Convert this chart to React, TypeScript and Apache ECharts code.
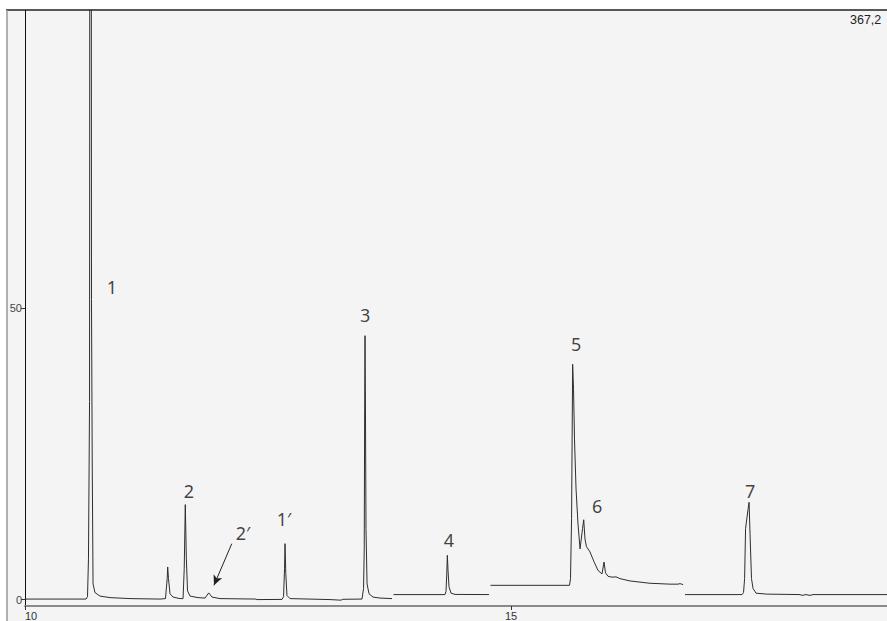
import React, { useEffect, useRef } from "react";
import * as echarts from "echarts";

// Chromatogram trace, four baseline segments: [retention time (min), signal]
const segmentA: [number, number][] = [
  [10.0, 0.09], [10.628, 0.09], [10.643, 0.5], [10.653, 7.0], [10.664, 34], [10.674, 367.2],
  [10.684, 51.5], [10.692, 22.4], [10.7, 2.7], [10.72, 1.2], [10.772, 0.6], [10.875, 0.34],
  [11.08, 0.17], [11.389, 0.09], [11.445, 0.17], [11.463, 3.6], [11.468, 5.6], [11.476, 3.6],
  [11.492, 1.0], [11.523, 0.43], [11.595, 0.17], [11.626, 0.17], [11.638, 5.3], [11.649, 16.3],
  [11.66, 7.0], [11.672, 1.5], [11.698, 0.6], [11.78, 0.34], [11.852, 0.26], [11.89, 1.15],
  [11.924, 0.43], [12.006, 0.17], [12.376, 0.09], [12.387, 0.0], [12.644, 0.03], [12.66, 0.5],
  [12.67, 5.3], [12.675, 9.6], [12.683, 4.45], [12.695, 0.7], [12.726, 0.17], [13.138, 0.0],
  [13.25, -0.1], [13.27, 0.05], [13.467, 0.09], [13.483, 1.9], [13.49, 8.7], [13.494, 31],
  [13.498, 45.3], [13.503, 31], [13.508, 12.2], [13.519, 2.7], [13.539, 1.0], [13.58, 0.43],
  [13.652, 0.26], [13.776, 0.17],
];
const segmentB: [number, number][] = [
  [13.791, 0.86], [14.321, 0.86], [14.331, 1.37], [14.339, 4.45], [14.345, 7.6], [14.352, 5.0],
  [14.362, 2.2], [14.383, 1.1], [14.424, 0.89], [14.774, 0.86],
];
const segmentC: [number, number][] = [
  [14.789, 2.45], [15.602, 2.45], [15.612, 3.6], [15.623, 13.9], [15.63, 31], [15.634, 40.4],
  [15.643, 36.1], [15.653, 27.6], [15.669, 19.0], [15.689, 13.0], [15.71, 8.7], [15.736, 12.2],
  [15.748, 13.7], [15.761, 10.4], [15.776, 9.1], [15.812, 8.2], [15.854, 6.5], [15.895, 5.0],
  [15.936, 4.4], [15.957, 6.45], [15.972, 4.6], [15.998, 4.0], [16.039, 3.85], [16.08, 3.9],
  [16.121, 3.6], [16.224, 3.2], [16.43, 2.8], [16.636, 2.65], [16.718, 2.65], [16.739, 2.74],
  [16.77, 2.57],
];
const segmentD: [number, number][] = [
  [16.79, 0.86], [17.377, 0.86], [17.392, 1.2], [17.403, 3.6], [17.413, 12.2], [17.438, 15.4],
  [17.449, 16.7], [17.459, 11.3], [17.474, 3.6], [17.49, 1.9], [17.521, 1.1], [17.631, 0.94],
  [17.973, 0.86], [17.994, 0.72], [18.035, 0.86], [18.076, 0.72], [18.107, 0.86], [18.87, 0.86],
];

// Peak annotations
const peakNames = ["1", "2", "2′", "1′", "3", "4", "5", "6", "7"];
const peakLabelX = [10.895, 11.687, 12.243, 12.665, 13.498, 14.362, 15.669, 15.885, 17.459];
const peakLabelY = [53.6, 18.7, 11.5, 13.9, 48.8, 10.3, 43.8, 16.1, 18.7];
const arrowFrom: [number, number] = [12.127, 9.59];
const arrowTo: [number, number] = [11.944, 2.45];

// Axes
const xTickValues = [10, 15];
const yTickValues = [0, 50];
const xMin = 10;
const xMax = 18.868;
const yMin = -1.1;
const yMax = 101.2;
const cornerLabel = "367,2";

export default function App() {
  const ref = useRef<HTMLDivElement>(null);

  useEffect(() => {
    if (!ref.current) return;
    const chart = echarts.init(ref.current, undefined, { renderer: "svg" });
    const lineStyle = { color: "#2e2e2e", width: 1 };
    const segs = [segmentA, segmentB, segmentC, segmentD];

    const series: any[] = segs.map((seg, i) => ({
      type: "line",
      data: seg,
      showSymbol: false,
      symbol: "none",
      lineStyle,
      clip: true,
      z: 3,
      silent: true,
      ...(i === 0
        ? {
            markLine: {
              silent: true,
              symbol: ["none", "arrow"],
              symbolSize: [7, 10],
              label: { show: false },
              lineStyle: { color: "#222", width: 1, type: "solid" },
              data: [[{ coord: arrowFrom }, { coord: arrowTo }]],
            },
          }
        : {}),
    }));

    series.push({
      type: "scatter",
      symbol: "circle",
      symbolSize: 1,
      itemStyle: { color: "rgba(0,0,0,0)" },
      silent: true,
      z: 5,
      data: peakNames.map((n, i) => ({ name: n, value: [peakLabelX[i], peakLabelY[i]] })),
      label: {
        show: true,
        position: "inside",
        formatter: "{b}",
        fontSize: 18,
        fontFamily: "Noto Sans",
        color: "#111",
      },
    });

    chart.setOption({
      animation: false,
      backgroundColor: "#f4f4f4",
      grid: { left: 25, right: 0, top: 10, bottom: 13.5 },
      xAxis: {
        type: "value",
        min: xMin,
        max: xMax,
        axisLine: { show: true, onZero: false, lineStyle: { color: "#8a8a8a", width: 2 } },
        axisTick: { show: true, length: 4, customValues: xTickValues, lineStyle: { color: "#333" } },
        axisLabel: {
          customValues: xTickValues,
          fontSize: 11,
          fontFamily: "Liberation Sans",
          color: "#333",
          margin: 4,
          alignMinLabel: "left",
        },
        splitLine: { show: false },
      },
      yAxis: {
        type: "value",
        min: yMin,
        max: yMax,
        axisLine: { show: true, lineStyle: { color: "#111", width: 1 } },
        axisTick: { show: true, length: 4, customValues: yTickValues, lineStyle: { color: "#333" } },
        axisLabel: {
          customValues: yTickValues,
          fontSize: 11,
          fontFamily: "Liberation Sans",
          color: "#444",
          margin: 3,
        },
        splitLine: { show: false },
      },
      graphic: [
        { type: "rect", z: 100, shape: { x: 0, y: 0, width: 887, height: 9.5 }, style: { fill: "#ffffff" } },
        { type: "rect", z: 100, shape: { x: 0, y: 0, width: 6, height: 621 }, style: { fill: "#ffffff" } },
        { type: "line", z: 101, shape: { x1: 6, y1: 10, x2: 887, y2: 10 }, style: { stroke: "#222", lineWidth: 1.5 } },
        { type: "line", z: 101, shape: { x1: 7, y1: 10, x2: 7, y2: 621 }, style: { stroke: "#9a9a9a", lineWidth: 1.5 } },
        {
          type: "text",
          z: 101,
          x: 850,
          y: 13,
          style: { text: cornerLabel, fontSize: 12.5, fontFamily: "Liberation Sans", fill: "#222" },
        },
      ],
      series,
    });

    return () => chart.dispose();
  }, []);

  return (
    <div
      ref={ref}
      style={{ position: "fixed", left: 0, top: 0, width: 887, height: 621 }}
    />
  );
}
